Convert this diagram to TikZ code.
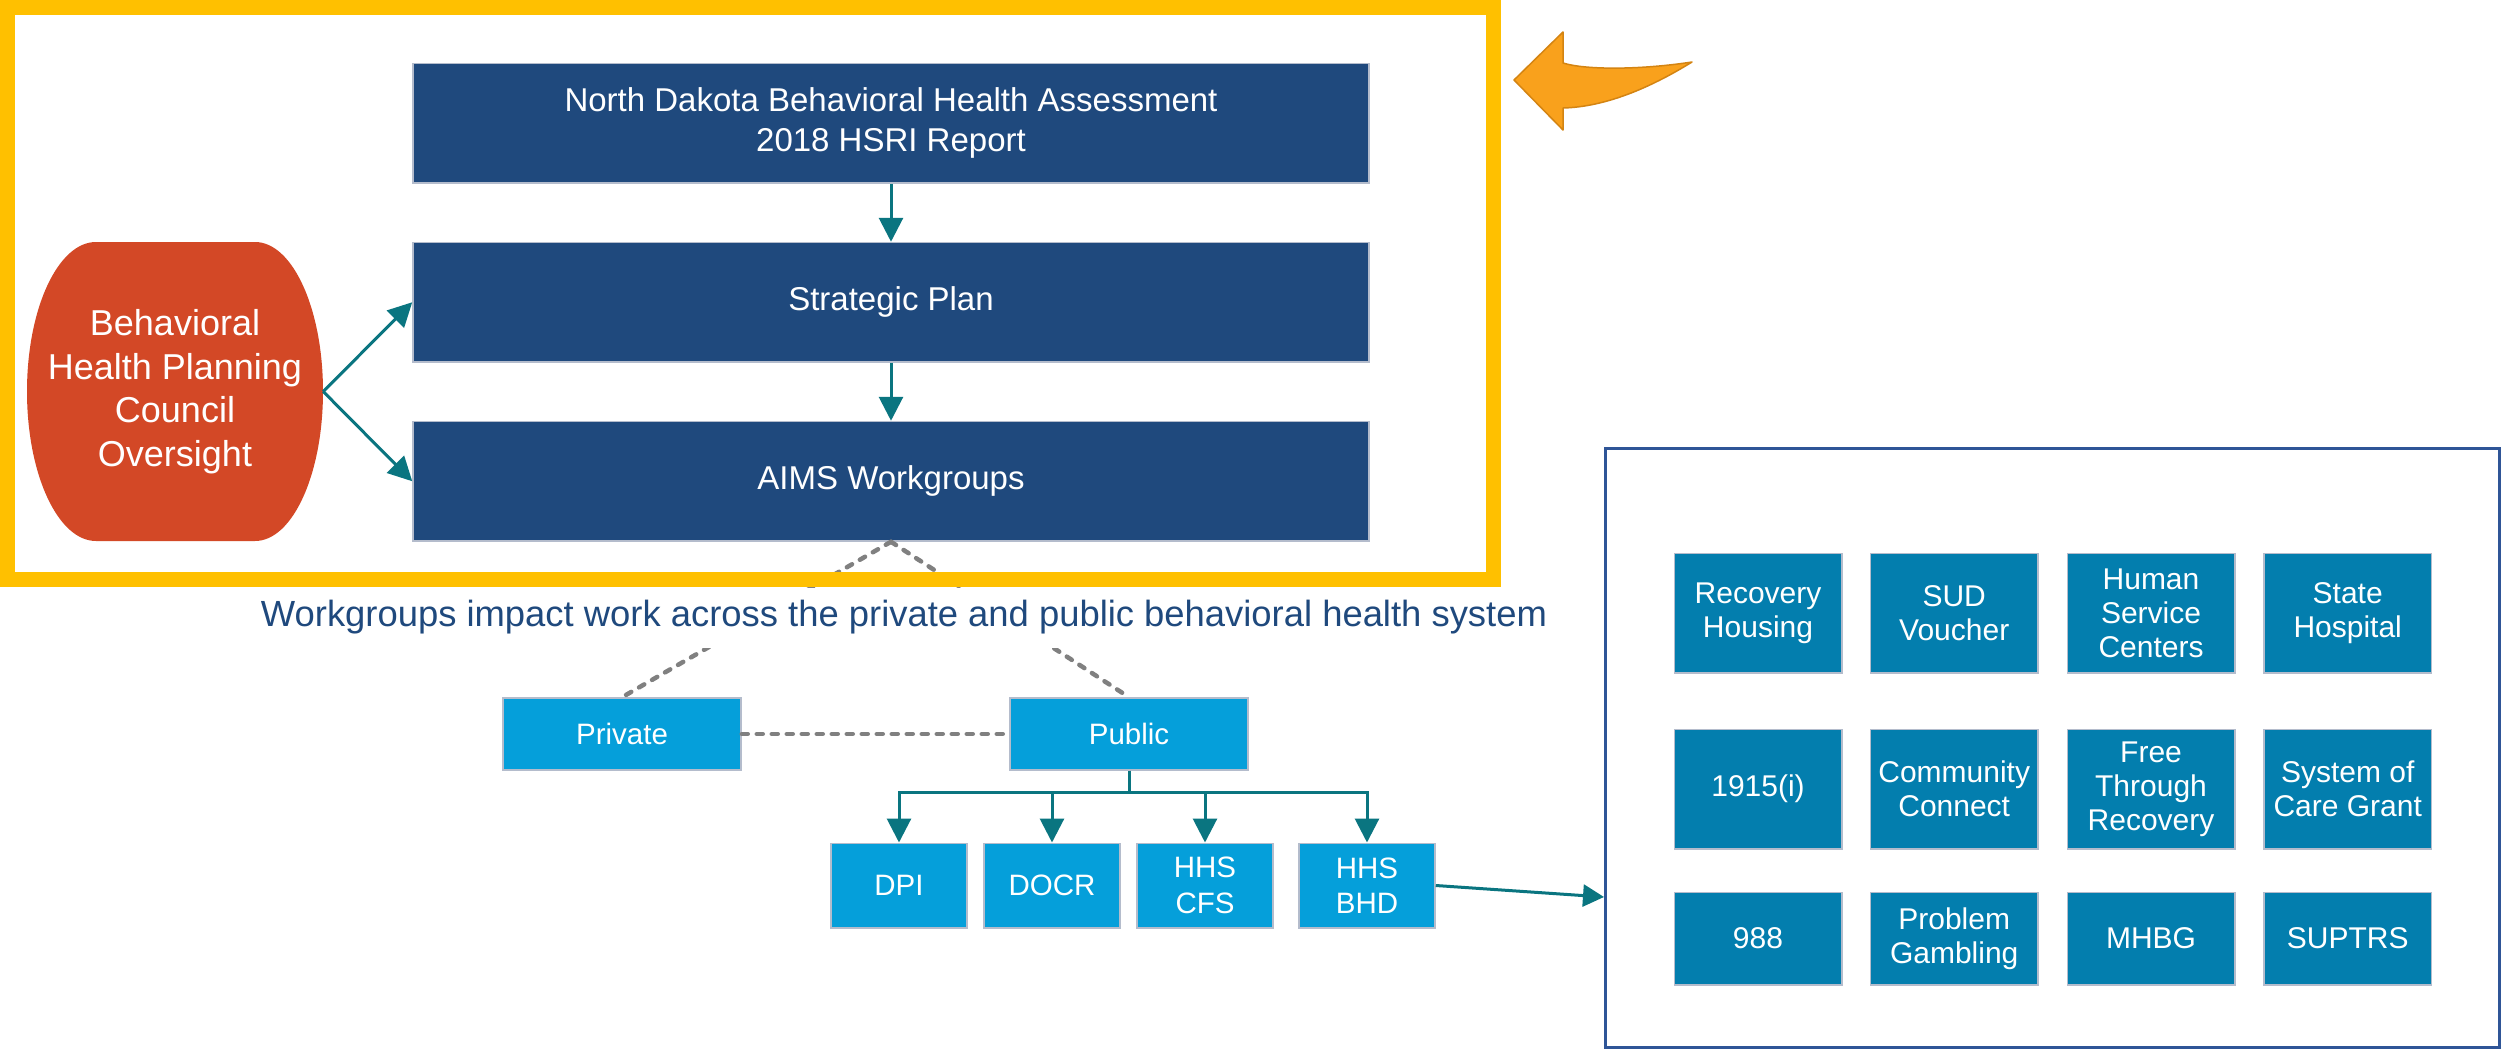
\documentclass[tikz,border=0pt]{standalone}
\usepackage{fontspec}
\setmainfont{Liberation Sans}
\usetikzlibrary{arrows.meta,calc}
\definecolor{dkblue}{RGB}{31,73,125}
\definecolor{boxedge}{RGB}{180,188,204}
\definecolor{ellred}{RGB}{211,72,38}
\definecolor{lblue}{RGB}{5,159,218}
\definecolor{gblue}{RGB}{3,126,174}
\definecolor{tealc}{RGB}{10,117,128}
\definecolor{yellowc}{RGB}{255,192,0}
\definecolor{orfill}{RGB}{249,161,28}
\definecolor{ordraw}{RGB}{212,132,18}
\definecolor{sysedge}{RGB}{47,85,151}
\definecolor{dgray}{RGB}{128,128,128}
\begin{document}
\begin{tikzpicture}[x=1pt,y=-1pt,
  darkbox/.style={fill=dkblue, draw=boxedge, line width=1.5pt, minimum width=956pt, minimum height=119.5pt, inner sep=0pt, text=white, font=\fontsize{33}{39.6}\selectfont, align=center},
  lbox/.style={fill=lblue, draw=boxedge, line width=1.5pt, inner sep=0pt, text=white, font=\fontsize{29.5}{35.4}\selectfont, align=center},
  gridbox/.style={fill=gblue, draw=boxedge, line width=1.5pt, minimum width=167.5pt, minimum height=119.5pt, inner sep=0pt, text=white, font=\fontsize{30}{34}\selectfont, align=center},
  tealarrow/.style={draw=tealc, line width=3pt, -{Triangle[length=24pt,width=24pt]}},
  dashline/.style={draw=dgray, line width=4.5pt, dash pattern=on 6pt off 9pt, line cap=round}]
\useasboundingbox (0,0) rectangle (2504,1049);
\fill[white] (0,0) rectangle (2504,1049);

% main column
\node[darkbox] (ndbha) at (891,123.25) {North Dakota Behavioral Health Assessment\\2018 HSRI Report};
\node[darkbox] (strat) at (891,302.25) {Strategic Plan};
\node[darkbox] (aims) at (891,481.25) {AIMS Workgroups};

% council shape
\fill[ellred] (96,242) -- (255,242) .. controls (292.6,242) and (323,308.9) .. (323,391.5)
  .. controls (323,474.1) and (292.6,541) .. (255,541) -- (96,541)
  .. controls (57.9,541) and (27,474.1) .. (27,391.5)
  .. controls (27,308.9) and (57.9,242) .. (96,242) -- cycle;
\node[minimum width=296pt, minimum height=299pt, inner sep=0pt, text=white, font=\fontsize{36}{43.5}\selectfont, align=center] (bhpc) at (175,391.5) {Behavioral\\Health Planning\\Council\\Oversight};

\draw[tealarrow] (ndbha.south) -- (strat.north);
\draw[tealarrow] (strat.south) -- (aims.north);
\draw[tealarrow] (bhpc.east) -- (strat.west);
\draw[tealarrow] (bhpc.east) -- (aims.west);

% private / public
\node[lbox, minimum width=238pt, minimum height=72pt] (private) at (622,734) {Private};
\node[lbox, minimum width=238pt, minimum height=72pt] (public) at (1129,734) {Public};

\node[lbox, minimum width=136pt, minimum height=84.5pt] (dpi) at (899,885.5) {DPI};
\node[lbox, minimum width=136pt, minimum height=84.5pt] (docr) at (1052,885.5) {DOCR};
\node[lbox, minimum width=136pt, minimum height=84.5pt] (cfs) at (1205,885.5) {HHS\\CFS};
\node[lbox, minimum width=136pt, minimum height=84.5pt] (bhd) at (1367,885.5) {HHS\\BHD};

\coordinate (bus) at ($(public.south)+(0,22)$);
\draw[tealarrow] (public.south) -- (bus) -| (dpi.north);
\draw[tealarrow] (public.south) -- (bus) -| (docr.north);
\draw[tealarrow] (public.south) -- (bus) -| (cfs.north);
\draw[tealarrow] (public.south) -- (bus) -| (bhd.north);

% dashed links
\draw[dashline] (aims.south) -- (private.north);
\draw[dashline] (aims.south) -- (public.north);
\draw[dashline] (private.east) -- (public.west);

\node[fill=white, minimum height=60pt, inner ysep=0pt, inner xsep=4pt, text=dkblue, font=\fontsize{36.4}{43}\selectfont, text height=26pt, text depth=8pt] (wlabel) at (904,617.7) {Workgroups impact work across the private and public behavioral health system};

% yellow frame
\draw[yellowc, line width=15.5pt] (7.5,7.75) rectangle (1493.5,579.5);

% orange arrow
\filldraw[fill=orfill, draw=ordraw, line width=1.5pt, line join=round] (1514,80) -- (1563,32) -- (1563,63)
  .. controls (1585,70) and (1640,70) .. (1692,62)
  .. controls (1650,88) and (1605,107) .. (1563,108) -- (1563,130) -- cycle;

% system box
\node[draw=sysedge, line width=3pt, minimum width=894pt, minimum height=599pt, inner sep=0pt] (sys) at (2052,747.5) {};
\coordinate (sysin) at (1604,897);
\draw[draw=tealc, line width=3pt, -{Triangle[length=21pt,width=22pt]}] (bhd.east) -- (sysin);

\node[gridbox] (g11) at (1758,613.4) {Recovery\\Housing};
\node[gridbox] (g12) at (1954.2,613.4) {SUD\\Voucher};
\node[gridbox] (g13) at (2151,613.4) {Human\\Service\\Centers};
\node[gridbox] (g14) at (2347.7,613.4) {State\\Hospital};
\node[gridbox] (g21) at (1758,789) {1915(i)};
\node[gridbox] (g22) at (1954.2,789) {Community\\Connect};
\node[gridbox] (g23) at (2151,789) {Free\\Through\\Recovery};
\node[gridbox] (g24) at (2347.7,789) {System of\\Care Grant};
\node[gridbox, minimum height=92.5pt] (g31) at (1758,938.5) {988};
\node[gridbox, minimum height=92.5pt] (g32) at (1954.2,938.5) {Problem\\Gambling};
\node[gridbox, minimum height=92.5pt] (g33) at (2151,938.5) {MHBG};
\node[gridbox, minimum height=92.5pt] (g34) at (2347.7,938.5) {SUPTRS};
\end{tikzpicture}
\end{document}
